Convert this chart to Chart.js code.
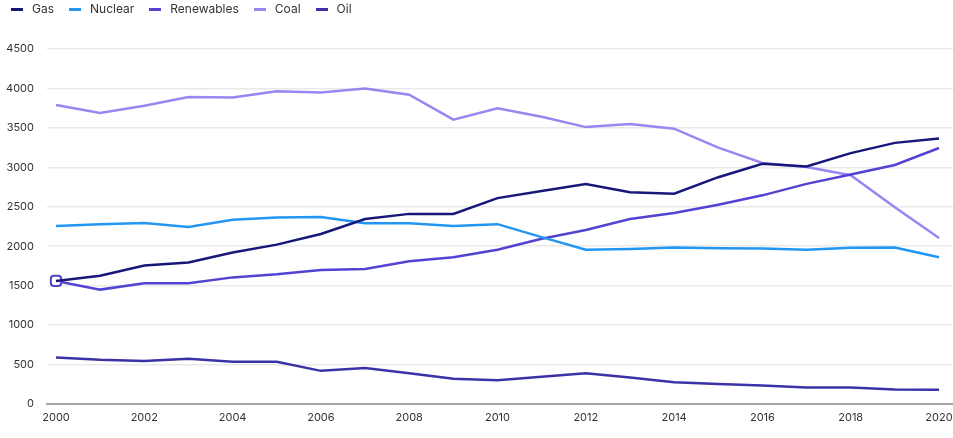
<!DOCTYPE html>
<html>
<head>
<meta charset="utf-8">
<script src="https://cdn.jsdelivr.net/npm/chart.js@4/dist/chart.umd.min.js"></script>
<style>
  html, body { margin: 0; padding: 0; background: #ffffff; overflow: hidden; }
  #wrap { width: 953px; height: 438px; position: relative; }
</style>
</head>
<body>
<div id="wrap"><canvas id="c"></canvas></div>
<script>
const years = [2000,2001,2002,2003,2004,2005,2006,2007,2008,2009,2010,2011,2012,2013,2014,2015,2016,2017,2018,2019,2020];
const xTickLabels = [2000,2002,2004,2006,2008,2010,2012,2014,2016,2018,2020];
const yTickValues = [0,500,1000,1500,2000,2500,3000,3500,4000,4500];

const gas        = [1560,1625,1755,1795,1920,2020,2155,2345,2410,2410,2610,2700,2790,2685,2665,2875,3045,3010,3180,3310,3365];
const nuclear    = [2255,2280,2295,2245,2335,2365,2370,2290,2290,2255,2280,2115,1955,1965,1985,1975,1970,1955,1980,1985,1860];
const renewables = [1560,1450,1530,1530,1605,1645,1700,1710,1810,1860,1955,2095,2205,2345,2420,2525,2645,2790,2910,3030,3245];
const coal       = [3790,3690,3780,3890,3885,3965,3950,4000,3920,3605,3750,3640,3510,3550,3490,3250,3055,3005,2900,2495,2105];
const oil        = [590,560,545,575,535,535,420,455,390,320,300,345,390,335,275,255,235,210,210,185,180];

const colors = { gas: '#17177a', nuclear: '#2196f3', renewables: '#5243d2', coal: '#9c85f2', oil: '#3a32a6' };

function pts(arr) { return years.map((y, i) => ({ x: y, y: arr[i] })); }

function swatch(color) {
  const cv = document.createElement('canvas');
  cv.width = 12; cv.height = 3;
  const g = cv.getContext('2d');
  g.fillStyle = color; g.fillRect(0, 0, 12, 3);
  return cv;
}

const base = { borderWidth: 2.5, pointRadius: 0, pointHoverRadius: 0, tension: 0, fill: false };

const legendFix = {
  id: 'legendFix',
  beforeUpdate(chart) {
    const lg = chart.legend;
    if (lg && !lg._patched) {
      const orig = lg.fit;
      lg.fit = function () { orig.call(this); this.height = 58; };
      lg._patched = true;
    }
  }
};

const FONT = 'Inter, "Noto Sans", sans-serif';

const chart = new Chart(document.getElementById('c'), {
  type: 'line',
  plugins: [legendFix],
  data: {
    datasets: [
      Object.assign({ label: 'Gas', data: pts(gas), borderColor: colors.gas, backgroundColor: colors.gas }, base),
      Object.assign({ label: 'Nuclear', data: pts(nuclear), borderColor: colors.nuclear, backgroundColor: colors.nuclear }, base),
      Object.assign({}, base, { label: 'Renewables', data: pts(renewables), borderColor: colors.renewables, backgroundColor: colors.renewables,
        pointRadius: ctx => ctx.dataIndex === 0 ? 6 : 0,
        pointStyle: 'rectRounded', pointBackgroundColor: '#ffffff', pointBorderColor: '#4a45c4', pointBorderWidth: 2 }),
      Object.assign({ label: 'Coal', data: pts(coal), borderColor: colors.coal, backgroundColor: colors.coal }, base),
      Object.assign({ label: 'Oil', data: pts(oil), borderColor: colors.oil, backgroundColor: colors.oil }, base)
    ]
  },
  options: {
    responsive: true,
    maintainAspectRatio: false,
    animation: false,
    events: [],
    layout: { padding: { left: -4, right: 0, top: -9, bottom: 12 } },
    plugins: {
      tooltip: { enabled: false },
      legend: {
        position: 'top',
        align: 'start',
        labels: {
          usePointStyle: true,
          pointStyleWidth: 18,
          boxHeight: 12,
          padding: 12,
          color: '#333333',
          font: { family: FONT, size: 12 },
          generateLabels: chart => {
            const items = Chart.defaults.plugins.legend.labels.generateLabels(chart);
            items.forEach(it => { it.pointStyle = swatch(chart.data.datasets[it.datasetIndex].borderColor); });
            return items;
          }
        }
      }
    },
    scales: {
      x: {
        type: 'linear',
        min: 1999.796,
        max: 2020.317,
        afterBuildTicks: axis => { axis.ticks = xTickLabels.map(v => ({ value: v })); },
        afterFit: axis => {
          axis.height = 22; axis.paddingLeft = 0; axis.paddingRight = 0;
          if (axis._margins) { axis._margins.left = 0; axis._margins.right = 0; }
        },
        ticks: {
          color: '#333333',
          padding: 7,
          maxRotation: 0,
          autoSkip: false,
          font: { family: FONT, size: 11 },
          callback: v => String(v)
        },
        grid: { display: false, drawTicks: false },
        border: { display: true, color: '#a6a6a6', width: 2 }
      },
      y: {
        type: 'linear',
        min: 0,
        max: 4500,
        afterBuildTicks: axis => { axis.ticks = yTickValues.map(v => ({ value: v })); },
        afterFit: axis => {
          axis.width = 51; axis.paddingTop = 0; axis.paddingBottom = 0;
          if (axis._margins) { axis._margins.top = 0; axis._margins.bottom = 0; }
        },
        ticks: {
          color: '#333333',
          padding: 13,
          font: { family: FONT, size: 11 },
          callback: v => String(v)
        },
        grid: { color: ctx => ctx.tick && ctx.tick.value === 0 ? 'rgba(0,0,0,0)' : '#e9e9e9', lineWidth: 1.5, drawTicks: false },
        border: { display: false }
      }
    }
  }
});

// safety: if the plot area still stops short of the right edge, widen the canvas so it reaches it
const gap = 953 - chart.chartArea.right;
if (gap > 0.5) {
  document.getElementById('wrap').style.width = (953 + gap) + 'px';
  chart.resize(953 + gap, 438);
}
</script>
</body>
</html>
